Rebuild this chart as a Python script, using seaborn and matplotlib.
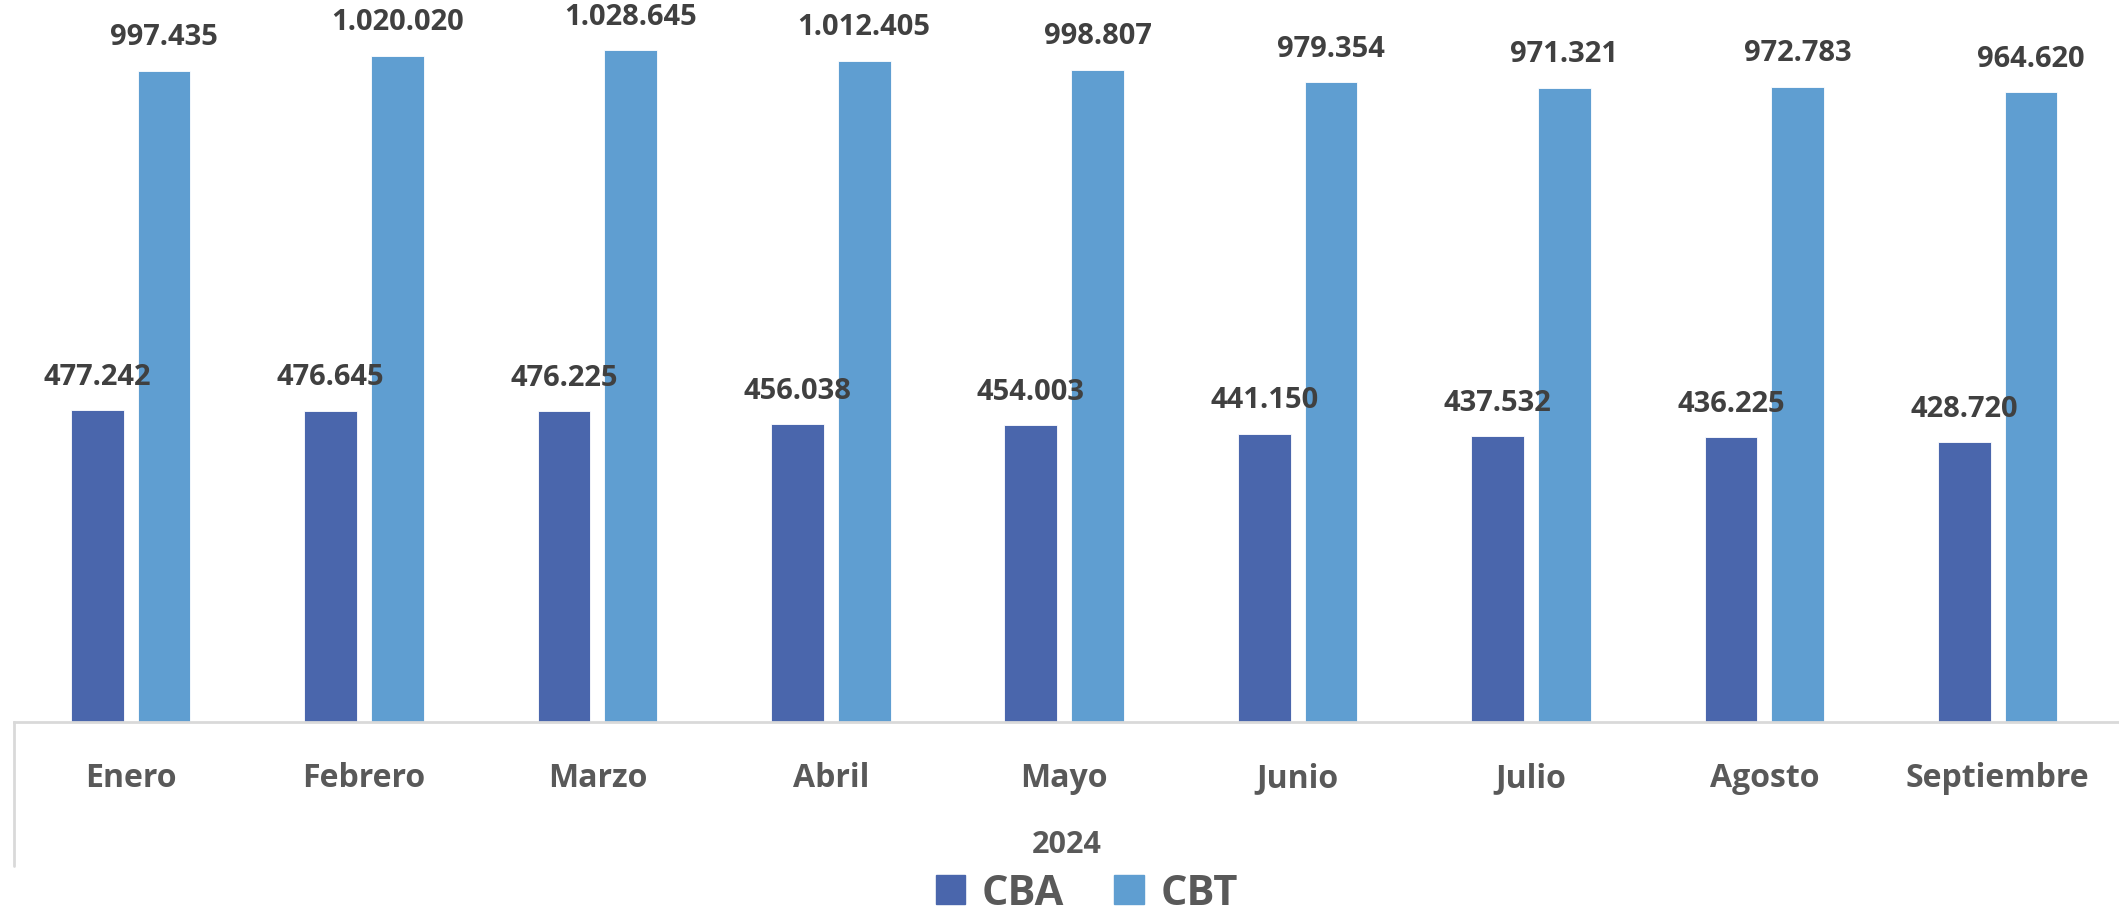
import matplotlib.pyplot as plt
import matplotlib.lines as mlines
import pandas as pd
import seaborn as sns

sns.set_theme(style="white")
plt.rcParams["font.family"] = ["Open Sans", "DejaVu Sans"]

months = ["Enero", "Febrero", "Marzo", "Abril", "Mayo", "Junio", "Julio", "Agosto", "Septiembre"]
cba = [477242, 476645, 476225, 456038, 454003, 441150, 437532, 436225, 428720]
cbt = [997435, 1020020, 1028645, 1012405, 998807, 979354, 971321, 972783, 964620]
series = ["CBA", "CBT"]
colors = ["#4A66AC", "#5F9ED1"]

df = pd.DataFrame({"mes": months * 2,
                   "serie": ["CBA"] * len(months) + ["CBT"] * len(months),
                   "valor": cba + cbt})

W, H = 2119, 912
fig = plt.figure(figsize=(W / 100, H / 100), dpi=100)
ax = fig.add_axes([14 / W, (H - 723) / H, 1 - 14 / W, 723 / H])

sns.barplot(data=df, x="mes", y="valor", hue="serie", hue_order=series,
            palette=colors, saturation=1, width=0.572, gap=0.21, ax=ax,
            edgecolor="white", linewidth=0.6, legend=False)

ax.set_xlim(-0.5, 8.52)
ax.set_ylim(0, 1107000)

for cont in ax.containers:
    labels = [f"{v:,.0f}".replace(",", ".") for v in cont.datavalues]
    ax.bar_label(cont, labels=labels, padding=14, fontsize=21,
                 fontweight="bold", color="#404040")

for s in ["top", "right", "left"]:
    ax.spines[s].set_visible(False)
ax.spines["bottom"].set_color("#D9D9D9")
ax.spines["bottom"].set_linewidth(2)
ax.set_yticks([])
ax.set_ylabel("")
ax.tick_params(axis="x", length=0, pad=28)
plt.setp(ax.get_xticklabels(), fontsize=23, fontweight="bold", color="#595959")
ax.set_xlabel("2024", fontsize=22, fontweight="bold", color="#595959", labelpad=25)

# left boundary line of the category axis
fig.add_artist(mlines.Line2D([14 / W, 14 / W], [(H - 867) / H, (H - 723) / H],
                             color="#D9D9D9", linewidth=2))

handles = [plt.Rectangle((0, 0), 1, 1, color=c) for c in colors]
fig.legend(handles, series, loc="lower center", bbox_to_anchor=(0.513, -0.003),
           ncol=2, frameon=False, borderpad=0, borderaxespad=0,
           handlelength=0.7, handleheight=0.7,
           handletextpad=0.4, columnspacing=1.2,
           prop={"size": 30, "weight": "bold"}, labelcolor="#595959")

fig.savefig("out.png", dpi=100)
